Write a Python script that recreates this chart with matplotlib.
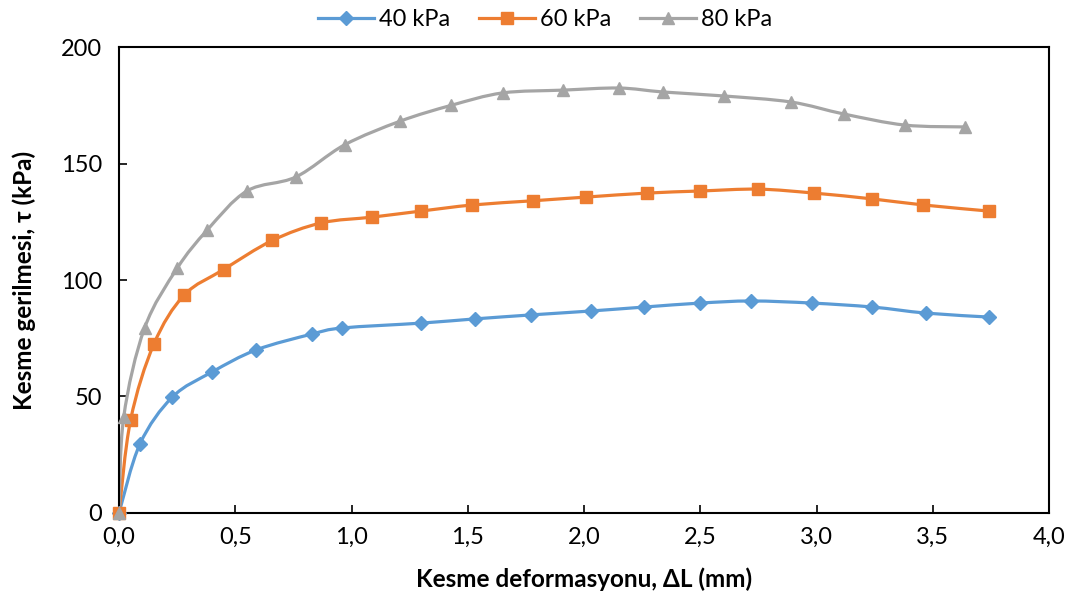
import matplotlib.pyplot as plt
import numpy as np
from matplotlib.path import Path
from matplotlib.patches import PathPatch
from matplotlib.lines import Line2D
from matplotlib.ticker import FuncFormatter

plt.rcParams['font.family'] = ['Lato', 'DejaVu Sans']

# Data
x40 = [0.00, 0.09, 0.23, 0.40, 0.59, 0.83, 0.96, 1.30, 1.53, 1.77, 2.03, 2.26, 2.50, 2.72, 2.98, 3.24, 3.47, 3.74]
y40 = [0.0, 29.6, 49.8, 60.5, 70.0, 76.8, 79.4, 81.5, 83.3, 85.0, 86.7, 88.4, 90.1, 91.0, 90.1, 88.4, 85.8, 84.1]

x60 = [0.00, 0.05, 0.15, 0.28, 0.45, 0.66, 0.87, 1.09, 1.30, 1.52, 1.78, 2.01, 2.27, 2.50, 2.75, 2.99, 3.24, 3.46, 3.74]
y60 = [0.0, 40.0, 72.5, 93.5, 104.5, 117.0, 124.5, 127.0, 129.6, 132.2, 134.0, 135.6, 137.3, 138.2, 139.0, 137.3, 134.8, 132.2, 129.6]

x80 = [0.00, 0.02, 0.11, 0.25, 0.38, 0.55, 0.76, 0.97, 1.21, 1.43, 1.65, 1.91, 2.15, 2.34, 2.60, 2.89, 3.12, 3.38, 3.64]
y80 = [0.0, 41.0, 79.4, 105.0, 121.5, 138.2, 144.2, 158.0, 168.2, 175.0, 180.3, 181.5, 182.4, 180.7, 179.0, 176.4, 171.2, 166.5, 165.7]

labels = ['40 kPa', '60 kPa', '80 kPa']
colors = ['#5B9BD5', '#ED7D31', '#A5A5A5']
markers = ['D', 's', '^']
msizes = [7.5, 8, 9]


def smooth_path(x, y):
    # Excel-like smoothed line: cubic Bezier segments through the points
    p = np.column_stack([x, y])
    n = len(p)
    verts = [p[0]]
    codes = [Path.MOVETO]
    for i in range(n - 1):
        p0 = p[i - 1] if i > 0 else p[i]
        p1 = p[i]
        p2 = p[i + 1]
        p3 = p[i + 2] if i + 2 < n else p[i + 1]
        c1 = p1 + (p2 - p0) / 6.0
        c2 = p2 - (p3 - p1) / 6.0
        verts += [c1, c2, p2]
        codes += [Path.CURVE4] * 3
    return Path(verts, codes)


fig = plt.figure(figsize=(10.79, 6.06), dpi=100)
ax = fig.add_axes([0.1103, 0.1535, 0.8619, 0.7689])

handles = []
for xs, ys, lab, c, m, ms in zip([x40, x60, x80], [y40, y60, y80], labels, colors, markers, msizes):
    patch = PathPatch(smooth_path(xs, ys), facecolor='none', edgecolor=c, lw=2.3, zorder=2)
    ax.add_patch(patch)
    ax.plot(xs, ys, linestyle='none', marker=m, markersize=ms, color=c, zorder=3, clip_on=False)
    handles.append(Line2D([], [], color=c, lw=2.3, marker=m, markersize=ms))

ax.set_xlim(0, 4.0)
ax.set_ylim(0, 200)
ax.set_xticks(np.arange(0, 4.01, 0.5))
ax.set_yticks(np.arange(0, 201, 50))
ax.xaxis.set_major_formatter(FuncFormatter(lambda v, p: f'{v:.1f}'.replace('.', ',')))
ax.tick_params(direction='in', length=6, width=1.2, labelsize=17)
ax.tick_params(axis='y', pad=12)
ax.tick_params(axis='x', pad=10)

for s in ax.spines.values():
    s.set_linewidth(1.5)
    s.set_color('black')

ax.set_xlabel('Kesme deformasyonu, ΔL (mm)', fontsize=17.5, fontweight='bold', labelpad=14)
ax.set_ylabel('Kesme gerilmesi, τ (kPa)', fontsize=17.5, fontweight='bold', labelpad=18)

fig.legend(handles, labels, loc='center', bbox_to_anchor=(0.505, 0.968), ncol=3, frameon=False,
           fontsize=17, handlelength=2.4, columnspacing=1.2, handletextpad=0.2)

fig.savefig('out.png', dpi=100)
